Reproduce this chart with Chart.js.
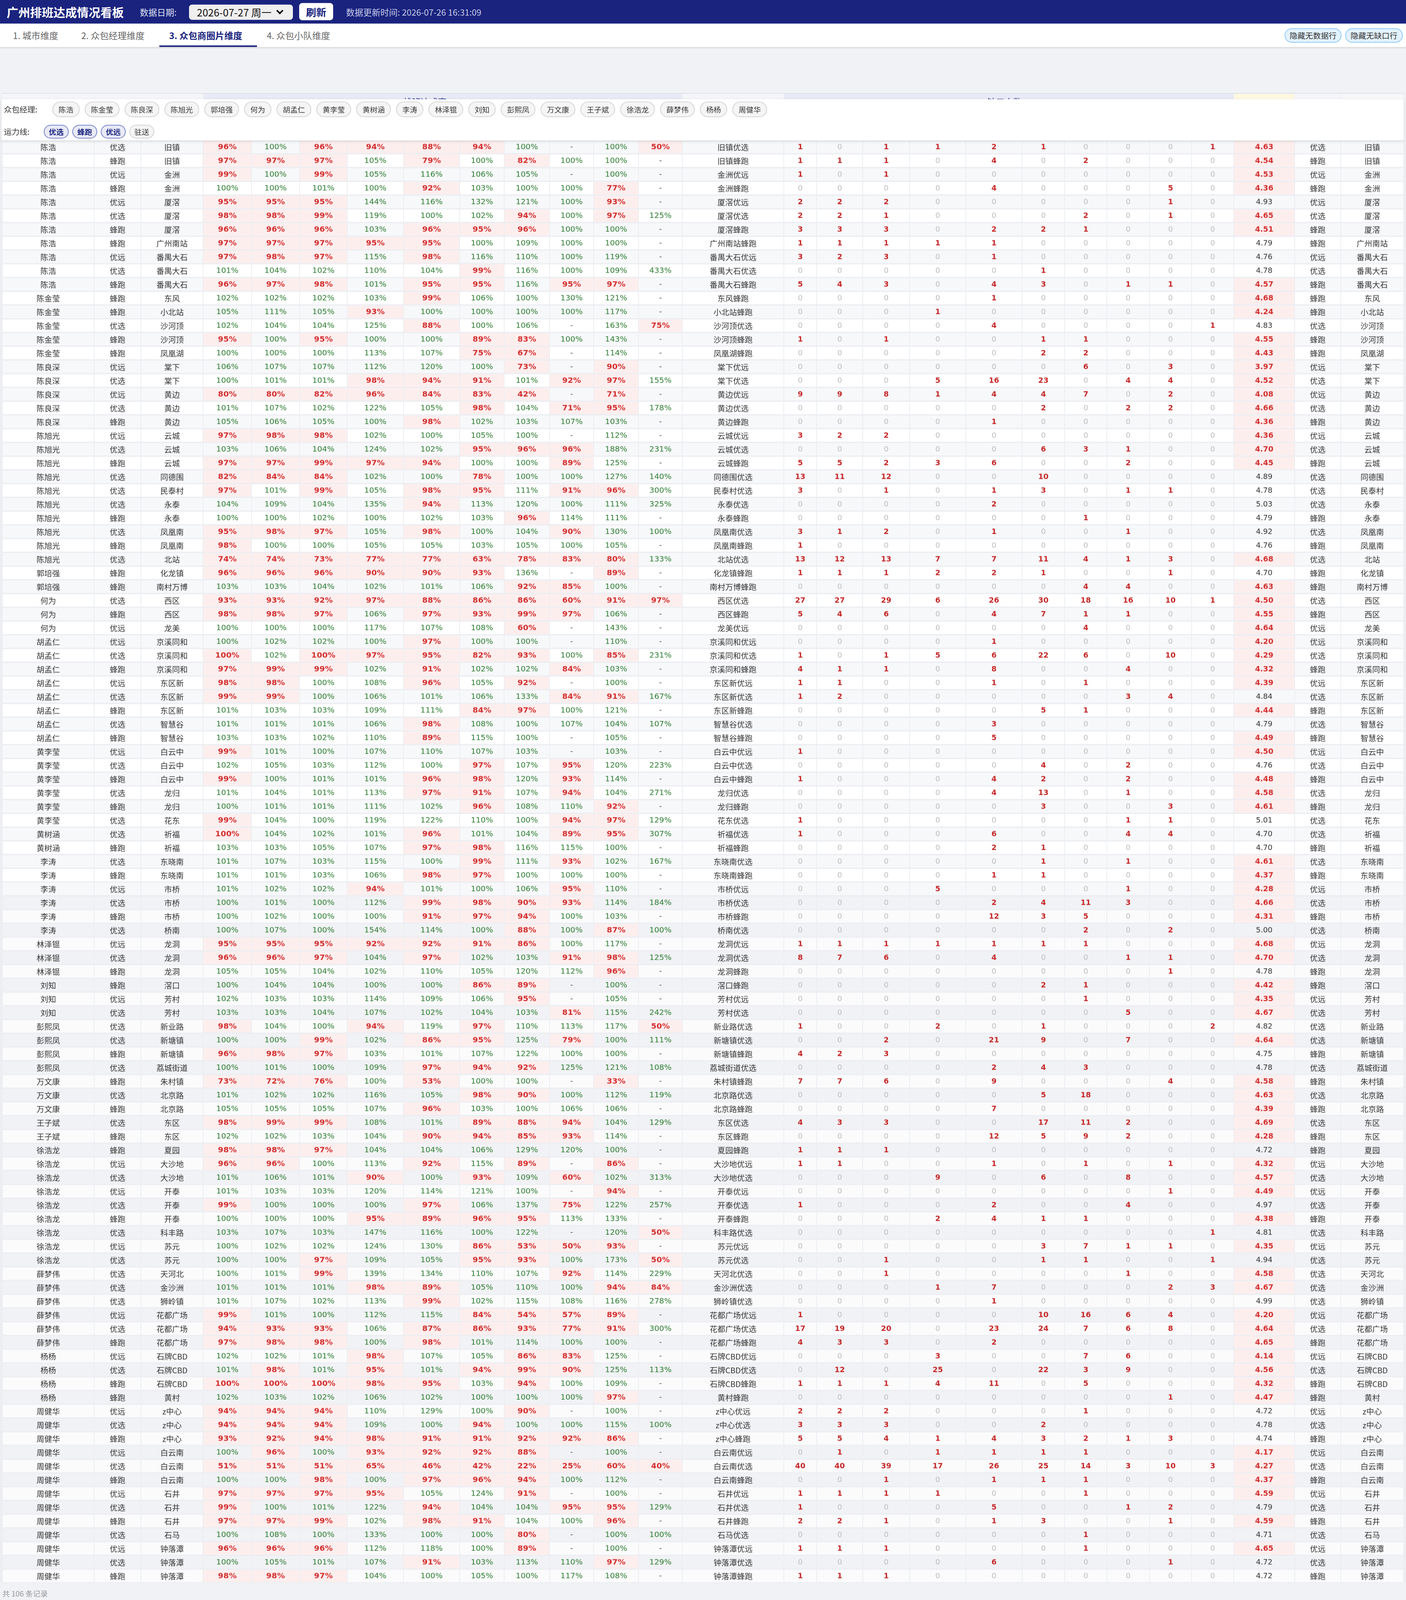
<!DOCTYPE html>
<html lang="zh-CN">
<head>
<meta charset="utf-8">
<script src="https://cdn.jsdelivr.net/npm/chart.js@4.4.1/dist/chart.umd.min.js"></script>
<style>
html{margin:0;padding:0;overflow:hidden;background:#f0f2f5;}
body{margin:0;padding:0;overflow:hidden;background:#f0f2f5;font-family:"Noto Sans CJK SC","Noto Sans",sans-serif;color:#333;}
#page{position:relative;width:3600px;height:4192px;overflow:hidden;background:#f0f2f5;transform-origin:0 0;}
.abs{position:absolute;white-space:nowrap;box-sizing:border-box;}
#topbar{left:0;top:0;width:3600px;height:62px;background:#1a237e;}
#tabbar{left:0;top:62px;width:3600px;height:65px;background:#fff;border-bottom:4px solid #e0e0e0;}
.tab{top:62px;height:61px;line-height:61px;font-size:23px;color:#666;}
.tab.active{color:#1a237e;font-weight:bold;}
.toggle{top:74px;height:38px;line-height:34px;font-size:20px;color:#333;background:#e3f2fd;border:2px solid #90caf9;border-radius:20px;text-align:center;}
.hcell{top:246px;height:121px;}
#panel{left:4px;top:260px;width:3590px;height:108px;background:#fff;box-shadow:0 2px 8px rgba(0,0,0,0.13);border-radius:4px;}
.chip{display:inline-block;box-sizing:border-box;border:2px solid #d4d4d4;background:#f5f5f5;color:#333;border-radius:22px;text-align:center;}
.chips1 .chip{height:41px;line-height:37px;font-size:19px;padding:0 14px;margin-right:13px;}
.chips2 .chip{height:36px;line-height:32px;font-size:19px;padding:0 11px;margin-right:9px;}
.chips2 .chip.on{background:#e8eaf6;border-color:#7986cb;color:#1a237e;font-weight:bold;}
</style>
</head>
<body>
<script>
// ---------------- data ----------------
const managers = [
'陈浩','陈浩','陈浩','陈浩','陈浩','陈浩','陈浩','陈浩','陈浩','陈浩','陈浩',
'陈金莹','陈金莹','陈金莹','陈金莹','陈金莹',
'陈良深','陈良深','陈良深','陈良深','陈良深',
'陈旭光','陈旭光','陈旭光','陈旭光','陈旭光','陈旭光','陈旭光','陈旭光','陈旭光','陈旭光',
'郭培强','郭培强',
'何为','何为','何为',
'胡孟仁','胡孟仁','胡孟仁','胡孟仁','胡孟仁','胡孟仁','胡孟仁','胡孟仁',
'黄李莹','黄李莹','黄李莹','黄李莹','黄李莹','黄李莹',
'黄树涵','黄树涵',
'李涛','李涛','李涛','李涛','李涛','李涛',
'林泽锟','林泽锟','林泽锟',
'刘知','刘知','刘知',
'彭熙凤','彭熙凤','彭熙凤','彭熙凤',
'万文康','万文康','万文康',
'王子斌','王子斌',
'徐浩龙','徐浩龙','徐浩龙','徐浩龙','徐浩龙','徐浩龙','徐浩龙','徐浩龙','徐浩龙',
'薛梦伟','薛梦伟','薛梦伟','薛梦伟','薛梦伟','薛梦伟',
'杨杨','杨杨','杨杨','杨杨',
'周健华','周健华','周健华','周健华','周健华','周健华','周健华','周健华','周健华','周健华','周健华','周健华','周健华'
];
const lines = [
'优选','蜂跑','优远','蜂跑','优远','优选','蜂跑','蜂跑','优远','优选','蜂跑',
'蜂跑','蜂跑','优选','蜂跑','蜂跑',
'优远','优选','优远','优选','蜂跑',
'优远','优选','蜂跑','优选','优选','优选','蜂跑','优选','蜂跑','优选',
'蜂跑','蜂跑',
'优选','蜂跑','优远',
'优远','优选','蜂跑','优远','优选','蜂跑','优选','蜂跑',
'优远','优选','蜂跑','优选','蜂跑','优选',
'优选','蜂跑',
'优选','蜂跑','优远','优选','蜂跑','优选',
'优远','优选','蜂跑',
'蜂跑','优远','优选',
'优选','优选','蜂跑','优选',
'蜂跑','优选','蜂跑',
'优选','蜂跑',
'蜂跑','优远','优选','优远','优选','蜂跑','优选','优远','优选',
'优选','优选','优选','优远','优选','蜂跑',
'优远','优选','蜂跑','蜂跑',
'优远','优选','蜂跑','优远','优选','蜂跑','优远','优选','蜂跑','优选','优远','优选','蜂跑'
];
const areas = [
'旧镇','旧镇','金洲','金洲','厦滘','厦滘','厦滘','广州南站','番禺大石','番禺大石','番禺大石',
'东风','小北站','沙河顶','沙河顶','凤凰湖',
'棠下','棠下','黄边','黄边','黄边',
'云城','云城','云城','同德围','民泰村','永泰','永泰','凤凰南','凤凰南','北站',
'化龙镇','南村万博',
'西区','西区','龙美',
'京溪同和','京溪同和','京溪同和','东区新','东区新','东区新','智慧谷','智慧谷',
'白云中','白云中','白云中','龙归','龙归','花东',
'祈福','祈福',
'东晓南','东晓南','市桥','市桥','市桥','桥南',
'龙洞','龙洞','龙洞',
'滘口','芳村','芳村',
'新业路','新塘镇','新塘镇','荔城街道',
'朱村镇','北京路','北京路',
'东区','东区',
'夏园','大沙地','大沙地','开泰','开泰','开泰','科丰路','苏元','苏元',
'天河北','金沙洲','狮岭镇','花都广场','花都广场','花都广场',
'石牌CBD','石牌CBD','石牌CBD','黄村',
'z中心','z中心','z中心','白云南','白云南','白云南','石井','石井','石井','石马','钟落潭','钟落潭','钟落潭'
];
// achievement rates (%), null = "-"
const rateRows = [
[96,100,96,94,88,94,100,null,100,50],
[97,97,97,105,79,100,82,100,100,null],
[99,100,99,105,116,106,105,null,100,null],
[100,100,101,100,92,103,100,100,77,null],
[95,95,95,144,116,132,121,100,93,null],
[98,98,99,119,100,102,94,100,97,125],
[96,96,96,103,96,95,96,100,100,null],
[97,97,97,95,95,100,109,100,100,null],
[97,98,97,115,98,116,110,100,119,null],
[101,104,102,110,104,99,116,100,109,433],
[96,97,98,101,95,95,116,95,97,null],
[102,102,102,103,99,106,100,130,121,null],
[105,111,105,93,100,100,100,100,117,null],
[102,104,104,125,88,100,106,null,163,75],
[95,100,95,100,100,89,83,100,143,null],
[100,100,100,113,107,75,67,null,114,null],
[106,107,107,112,120,100,73,null,90,null],
[100,101,101,98,94,91,101,92,97,155],
[80,80,82,96,84,83,42,null,71,null],
[101,107,102,122,105,98,104,71,95,178],
[105,106,105,100,98,102,103,107,103,null],
[97,98,98,102,100,105,100,null,112,null],
[103,106,104,124,102,95,96,96,188,231],
[97,97,99,97,94,100,100,89,125,null],
[82,84,84,102,100,78,100,100,127,140],
[97,101,99,105,98,95,111,91,96,300],
[104,109,104,135,94,113,120,100,111,325],
[100,100,102,100,102,103,96,114,111,null],
[95,98,97,105,98,100,104,90,130,100],
[98,100,100,105,105,103,105,100,105,null],
[74,74,73,77,77,63,78,83,80,133],
[96,96,96,90,90,93,136,null,89,null],
[103,103,104,102,101,106,92,85,100,null],
[93,93,92,97,88,86,86,60,91,97],
[98,98,97,106,97,93,99,97,106,null],
[100,100,100,117,107,108,60,null,143,null],
[100,102,102,100,97,100,100,null,110,null],
[99.6,102,99.6,97,95,82,93,100,85,231],
[97,99,99,102,91,102,102,84,103,null],
[98,98,100,108,96,105,92,null,100,null],
[99,99,100,106,101,106,133,84,91,167],
[101,103,103,109,111,84,97,100,121,null],
[101,101,101,106,98,108,100,107,104,107],
[103,103,102,110,89,115,100,null,105,null],
[99,101,100,107,110,107,103,null,103,null],
[102,105,103,112,100,97,107,95,120,223],
[99,100,101,101,96,98,120,93,114,null],
[101,104,101,113,97,91,107,94,104,271],
[100,101,101,111,102,96,108,110,92,null],
[99,104,100,119,122,110,100,94,97,129],
[99.6,104,102,101,96,101,104,89,95,307],
[103,103,105,107,97,98,116,115,100,null],
[101,107,103,115,100,99,111,93,102,167],
[101,101,103,106,98,97,100,100,100,null],
[101,102,102,94,101,100,106,95,110,null],
[100,101,100,112,99,98,90,93,114,184],
[100,102,100,100,91,97,94,100,103,null],
[100,107,100,154,114,100,88,100,87,100],
[95,95,95,92,92,91,86,100,117,null],
[96,96,97,104,97,102,103,91,98,125],
[105,105,104,102,110,105,120,112,96,null],
[100,104,104,100,100,86,89,null,100,null],
[102,103,103,114,109,106,95,null,105,null],
[103,103,104,107,102,104,103,81,115,242],
[98,104,100,94,119,97,110,113,117,50],
[100,100,99,102,86,95,125,79,100,111],
[96,98,97,103,101,107,122,100,100,null],
[100,101,100,109,97,94,92,125,121,108],
[73,72,76,100,53,100,100,null,33,null],
[101,102,102,116,105,98,90,100,112,119],
[105,105,105,107,96,103,100,106,106,null],
[98,99,99,108,101,89,88,94,104,129],
[102,102,103,104,90,94,85,93,114,null],
[98,98,97,104,104,106,129,120,100,null],
[96,96,100,113,92,115,89,null,86,null],
[101,106,101,90,100,93,109,60,102,313],
[101,103,103,120,114,121,100,null,94,null],
[99,100,100,100,97,106,137,75,122,257],
[100,100,100,95,89,96,95,113,133,null],
[103,107,103,147,116,100,122,null,120,50],
[100,102,102,124,130,86,53,50,93,null],
[100,100,97,109,105,95,93,100,173,50],
[100,101,99,139,134,110,107,92,114,229],
[101,101,101,98,89,105,110,100,94,84],
[101,107,102,113,99,102,115,108,116,278],
[99,101,100,112,115,84,54,57,89,null],
[94,93,93,106,87,86,93,77,91,300],
[97,98,98,100,98,101,114,100,100,null],
[102,102,101,98,107,105,86,83,125,null],
[101,98,101,95,101,94,99,90,125,113],
[99.6,99.6,99.6,98,95,103,94,100,109,null],
[102,103,102,106,102,100,100,100,97,null],
[94,94,94,110,129,100,90,null,100,null],
[94,94,94,109,100,94,100,100,115,100],
[93,92,94,98,91,91,92,92,86,null],
[100,96,100,93,92,92,88,null,100,null],
[51,51,51,65,46,42,22,25,60,40],
[100,100,98,100,97,96,94,100,112,null],
[97,97,97,95,105,124,91,null,100,null],
[99,100,101,122,94,104,104,95,95,129],
[97,97,99,102,98,91,104,100,96,null],
[100,108,100,133,100,100,80,null,100,100],
[96,96,96,112,118,100,89,null,100,null],
[100,105,101,107,91,103,113,110,97,129],
[98,98,97,104,100,105,100,117,108,null]
];
// shortage head-counts
const gapRows = [
[1,0,1,1,2,1,0,0,0,1],
[1,1,1,0,4,0,2,0,0,0],
[1,0,1,0,0,0,0,0,0,0],
[0,0,0,0,4,0,0,0,5,0],
[2,2,2,0,0,0,0,0,1,0],
[2,2,1,0,0,0,2,0,1,0],
[3,3,3,0,2,2,1,0,0,0],
[1,1,1,1,1,0,0,0,0,0],
[3,2,3,0,1,0,0,0,0,0],
[0,0,0,0,0,1,0,0,0,0],
[5,4,3,0,4,3,0,1,1,0],
[0,0,0,0,1,0,0,0,0,0],
[0,0,0,1,0,0,0,0,0,0],
[0,0,0,0,4,0,0,0,0,1],
[1,0,1,0,0,1,1,0,0,0],
[0,0,0,0,0,2,2,0,0,0],
[0,0,0,0,0,0,6,0,3,0],
[0,0,0,5,16,23,0,4,4,0],
[9,9,8,1,4,4,7,0,2,0],
[0,0,0,0,0,2,0,2,2,0],
[0,0,0,0,1,0,0,0,0,0],
[3,2,2,0,0,0,0,0,0,0],
[0,0,0,0,0,6,3,1,0,0],
[5,5,2,3,6,0,0,2,0,0],
[13,11,12,0,0,10,0,0,0,0],
[3,0,1,0,1,3,0,1,1,0],
[0,0,0,0,2,0,0,0,0,0],
[0,0,0,0,0,0,1,0,0,0],
[3,1,2,0,1,0,0,1,0,0],
[1,0,0,0,0,0,0,0,0,0],
[13,12,13,7,7,11,4,1,3,0],
[1,1,1,2,2,1,0,0,1,0],
[0,0,0,0,0,0,4,4,0,0],
[27,27,29,6,26,30,18,16,10,1],
[5,4,6,0,4,7,1,1,0,0],
[0,0,0,0,0,0,4,0,0,0],
[0,0,0,0,1,0,0,0,0,0],
[1,0,1,5,6,22,6,0,10,0],
[4,1,1,0,8,0,0,4,0,0],
[1,1,0,0,1,0,1,0,0,0],
[1,2,0,0,0,0,0,3,4,0],
[0,0,0,0,0,5,1,0,0,0],
[0,0,0,0,3,0,0,0,0,0],
[0,0,0,0,5,0,0,0,0,0],
[1,0,0,0,0,0,0,0,0,0],
[0,0,0,0,0,4,0,2,0,0],
[1,0,0,0,4,2,0,2,0,0],
[0,0,0,0,4,13,0,1,0,0],
[0,0,0,0,0,3,0,0,3,0],
[1,0,0,0,0,0,0,1,1,0],
[1,0,0,0,6,0,0,4,4,0],
[0,0,0,0,2,1,0,0,0,0],
[0,0,0,0,0,1,0,1,0,0],
[0,0,0,0,1,1,0,0,0,0],
[0,0,0,5,0,0,0,1,0,0],
[0,0,0,0,2,4,11,3,0,0],
[0,0,0,0,12,3,5,0,0,0],
[0,0,0,0,0,0,2,0,2,0],
[1,1,1,1,1,1,1,0,0,0],
[8,7,6,0,4,0,0,1,1,0],
[0,0,0,0,0,0,0,0,1,0],
[0,0,0,0,0,2,1,0,0,0],
[0,0,0,0,0,0,1,0,0,0],
[0,0,0,0,0,0,0,5,0,0],
[1,0,0,2,0,1,0,0,0,2],
[0,0,2,0,21,9,0,7,0,0],
[4,2,3,0,0,0,0,0,0,0],
[0,0,0,0,2,4,3,0,0,0],
[7,7,6,0,9,0,0,0,4,0],
[0,0,0,0,0,5,18,0,0,0],
[0,0,0,0,7,0,0,0,0,0],
[4,3,3,0,0,17,11,2,0,0],
[0,0,0,0,12,5,9,2,0,0],
[1,1,1,0,0,0,0,0,0,0],
[1,1,0,0,1,0,1,0,1,0],
[0,0,0,9,0,6,0,8,0,0],
[0,0,0,0,0,0,0,0,1,0],
[1,0,0,0,2,0,0,4,0,0],
[0,0,0,2,4,1,1,0,0,0],
[0,0,0,0,0,0,0,0,0,1],
[0,0,0,0,0,3,7,1,1,0],
[0,0,1,0,0,1,1,0,0,1],
[0,0,1,0,0,0,0,1,0,0],
[0,0,0,1,7,0,0,0,2,3],
[0,0,0,0,1,0,0,0,0,0],
[1,0,0,0,0,10,16,6,4,0],
[17,19,20,0,23,24,7,6,8,0],
[4,3,3,0,2,0,0,0,0,0],
[0,0,0,3,0,0,7,6,0,0],
[0,12,0,25,0,22,3,9,0,0],
[1,1,1,4,11,0,5,0,0,0],
[0,0,0,0,0,0,0,0,1,0],
[2,2,2,0,0,0,1,0,0,0],
[3,3,3,0,0,2,0,0,0,0],
[5,5,4,1,4,3,2,1,3,0],
[0,1,0,1,1,1,1,0,0,0],
[40,40,39,17,26,25,14,3,10,3],
[0,0,1,0,1,1,1,0,0,0],
[1,1,1,1,0,0,1,0,0,0],
[1,0,0,0,5,0,0,1,2,0],
[2,2,1,0,1,3,0,0,1,0],
[0,0,0,0,0,0,1,0,0,0],
[1,1,1,0,0,0,1,0,0,0],
[0,0,0,0,6,0,0,0,1,0],
[1,1,1,0,0,0,0,0,0,0]
];
const scores = [
4.63,4.54,4.53,4.36,4.93,4.65,4.51,4.79,4.76,4.78,4.57,
4.68,4.24,4.83,4.55,4.43,
3.97,4.52,4.08,4.66,4.36,
4.36,4.698,4.45,4.89,4.78,5.03,4.79,4.92,4.76,4.68,
4.70,4.63,
4.50,4.55,4.64,
4.20,4.29,4.32,4.39,4.84,4.44,4.79,4.49,
4.50,4.76,4.48,4.58,4.61,5.01,
4.70,4.70,
4.61,4.37,4.28,4.66,4.31,5.00,
4.68,4.698,4.78,
4.42,4.35,4.67,
4.82,4.64,4.75,4.78,
4.58,4.63,4.39,
4.69,4.28,
4.72,4.32,4.57,4.49,4.97,4.38,4.81,4.35,4.94,
4.58,4.67,4.99,4.20,4.64,4.65,
4.14,4.56,4.32,4.47,
4.72,4.78,4.74,4.17,4.27,4.37,4.59,4.79,4.59,4.71,4.65,4.72,4.72
];
const managerChips = ['陈浩','陈金莹','陈良深','陈旭光','郭培强','何为','胡孟仁','黄李莹','黄树涵','李涛','林泽锟','刘知','彭熙凤','万文康','王子斌','徐浩龙','薛梦伟','杨杨','周健华'];
const lineChips = ['优选','蜂跑','优远','驻送'];
const activeLines = ['优选','蜂跑','优远'];
const tabs = ['1. 城市维度','2. 众包经理维度','3. 众包商圈片维度','4. 众包小队维度'];
</script>

<div id="page">
<div class="abs" id="topbar"></div>
<div class="abs" style="left:17px;top:0;height:62px;line-height:62px;font-size:30px;font-weight:bold;color:#fff;">广州排班达成情况看板</div>
<div class="abs" style="left:358px;top:0;height:62px;line-height:62px;font-size:22px;color:#dfe2f3;">数据日期:</div>
<div class="abs" style="left:484px;top:12px;width:266px;height:40px;background:#efefef;border-radius:8px;line-height:40px;font-size:26px;color:#111;padding-left:20px;">2026-07-27 周一
  <div class="abs" style="left:226px;top:10px;width:13px;height:13px;border-right:4px solid #111;border-bottom:4px solid #111;transform:rotate(45deg);"></div>
</div>
<div class="abs" style="left:766px;top:8px;width:87px;height:45px;background:#fff;border-radius:8px;line-height:45px;text-align:center;font-size:26px;font-weight:bold;color:#1a237e;">刷新</div>
<div class="abs" style="left:886px;top:0;height:62px;line-height:62px;font-size:22px;color:#c5cae9;">数据更新时间: 2026-07-26 16:31:09</div>

<div class="abs" id="tabbar"></div>
<div id="tabs"></div>
<div class="abs" style="left:408px;top:119px;width:250px;height:4px;background:#1a237e;"></div>
<div class="abs toggle" style="left:3289px;width:146px;">隐藏无数据行</div>
<div class="abs toggle" style="left:3444px;width:148px;">隐藏无缺口行</div>

<div class="abs" style="left:4px;top:244px;width:3592px;height:2px;background:#dcdfe6;"></div>
<div id="hcells"></div>
<div class="abs" style="left:1033px;top:253px;font-size:22px;line-height:24px;color:#283593;">排班达成率</div>
<div class="abs" style="left:2528px;top:253px;font-size:22px;line-height:24px;color:#283593;">缺口人数</div>

<canvas id="tbl" class="abs" width="3600" height="3780" style="left:0;top:367px;width:3600px;height:3780px;background:#eceef2;"></canvas>

<div class="abs" id="panel">
  <div class="abs" style="left:6px;top:6px;height:41px;line-height:41px;font-size:20px;color:#333;">众包经理:</div>
  <div class="abs chips1" id="chips1" style="left:130px;top:6px;"></div>
  <div class="abs" style="left:6px;top:67px;height:36px;line-height:36px;font-size:20px;color:#333;">运力线:</div>
  <div class="abs chips2" id="chips2" style="left:108px;top:67px;"></div>
</div>

<div class="abs" style="left:6px;top:4162px;line-height:26px;font-size:19px;color:#999;">共 106 条记录</div>
</div>

<script>
// ---------------- static page parts ----------------
const tabLeft = [33, 208, 433, 683];
document.getElementById('tabs').innerHTML = tabs.map((t,i)=>
  `<div class="abs tab${i===2?' active':''}" style="left:${tabLeft[i]}px;">${t}</div>`).join('');
document.getElementById('chips1').innerHTML = managerChips.map(n=>`<span class="chip">${n}</span>`).join('');
document.getElementById('chips2').innerHTML = lineChips.map(n=>`<span class="chip${activeLines.includes(n)?' on':''}">${n}</span>`).join('');

const EDGES = [6,241,361,520,644,767,889,1033,1177,1291,1407,1520,1635,1747,2007,2091,2209,2329,2473,2617,2726,2834,2943,3051,3159,3315,3433,3594];
const headerBlocks = [
  [0,1,'#f5f6fa'],[1,2,'#f5f6fa'],[2,3,'#f5f6fa'],[3,13,'#e8eaf6'],[13,14,'#f5f6fa'],
  [14,24,'#e8eaf6'],[24,25,'#fff8e1'],[25,26,'#f5f6fa'],[26,27,'#f7f8fa']
];
document.getElementById('hcells').innerHTML = headerBlocks.map(([a,b,c])=>
  `<div class="abs hcell" style="left:${EDGES[a]+1}px;width:${EDGES[b]-EDGES[a]-2}px;background:${c};"></div>`).join('');

// fit the whole 4192px-tall board into the visible viewport if it is shorter
(function fitPage(){
  const vh = window.innerHeight || document.documentElement.clientHeight;
  if (vh && vh < 4192) {
    document.getElementById('page').style.transform = `scale(1, ${vh / 4192})`;
  }
})();

// ---------------- table chart ----------------
const PINK = '#fdeeee';
function stripe(i){
  const r = i + 1;
  if (r <= 55) return r % 2 ? '#f7f8fa' : '#ffffff';
  return r % 2 ? '#fbfbfc' : '#f1f2f5';
}
function cellBg(col, i){
  if (col >= 3 && col <= 12) {
    const v = rateRows[i][col-3];
    if (v !== null && v < 100) return PINK;
  }
  if (col === 24 && scores[i] < 4.7) return PINK;
  return stripe(i);
}
const datasets = EDGES.slice(0, -1).map((x0, col) => ({
  data: managers.map(() => [x0 + 1, EDGES[col+1] - 1]),
  backgroundColor: managers.map((_, i) => cellBg(col, i)),
  borderWidth: 0,
  borderSkipped: false,
  grouped: false,
  barPercentage: 0.9,
  categoryPercentage: 1
}));

const CJK = '"Noto Sans CJK SC", "Noto Sans", sans-serif';
const NUM = '"DejaVu Sans", "Noto Sans CJK SC", sans-serif';
const cellText = {
  id: 'cellText',
  afterDatasetsDraw(chart) {
    const { ctx, scales: { x, y } } = chart;
    ctx.save();
    ctx.textAlign = 'center';
    ctx.textBaseline = 'middle';
    for (let i = 0; i < managers.length; i++) {
      const cy = y.getPixelForValue(i);
      const put = (col, txt, font, color) => {
        ctx.font = font; ctx.fillStyle = color;
        ctx.fillText(txt, x.getPixelForValue((EDGES[col] + EDGES[col+1]) / 2), cy + 1);
      };
      put(0, managers[i], '20px ' + CJK, '#333');
      put(1, lines[i], '20px ' + CJK, '#333');
      put(2, areas[i], '20px ' + CJK, '#333');
      rateRows[i].forEach((v, k) => {
        if (v === null) put(3 + k, '-', '20px ' + NUM, '#555');
        else if (v < 100) put(3 + k, Math.round(v) + '%', 'bold 20px ' + NUM, '#d32f2f');
        else put(3 + k, Math.round(v) + '%', '20px ' + NUM, '#2e7d32');
      });
      put(13, areas[i] + lines[i], '20px ' + CJK, '#333');
      gapRows[i].forEach((v, k) => {
        if (v === 0) put(14 + k, '0', '19px ' + NUM, '#bdbdbd');
        else put(14 + k, String(v), 'bold 19px ' + NUM, '#c62828');
      });
      const s = scores[i];
      if (s < 4.7) put(24, s.toFixed(2), 'bold 19px ' + NUM, '#d32f2f');
      else put(24, s.toFixed(2), '19px ' + NUM, '#333');
      put(25, lines[i], '20px ' + CJK, '#333');
      put(26, areas[i], '20px ' + CJK, '#333');
    }
    ctx.restore();
  }
};

new Chart(document.getElementById('tbl'), {
  type: 'bar',
  data: { labels: managers.map((_, i) => String(i + 1)), datasets },
  options: {
    indexAxis: 'y',
    responsive: false,
    maintainAspectRatio: false,
    animation: false,
    devicePixelRatio: 1,
    events: [],
    layout: { padding: 0 },
    scales: {
      x: { type: 'linear', min: 0, max: 3600, display: false },
      y: { type: 'category', display: false, offset: true }
    },
    plugins: { legend: { display: false }, tooltip: { enabled: false } }
  },
  plugins: [cellText]
});
</script>
</body>
</html>
